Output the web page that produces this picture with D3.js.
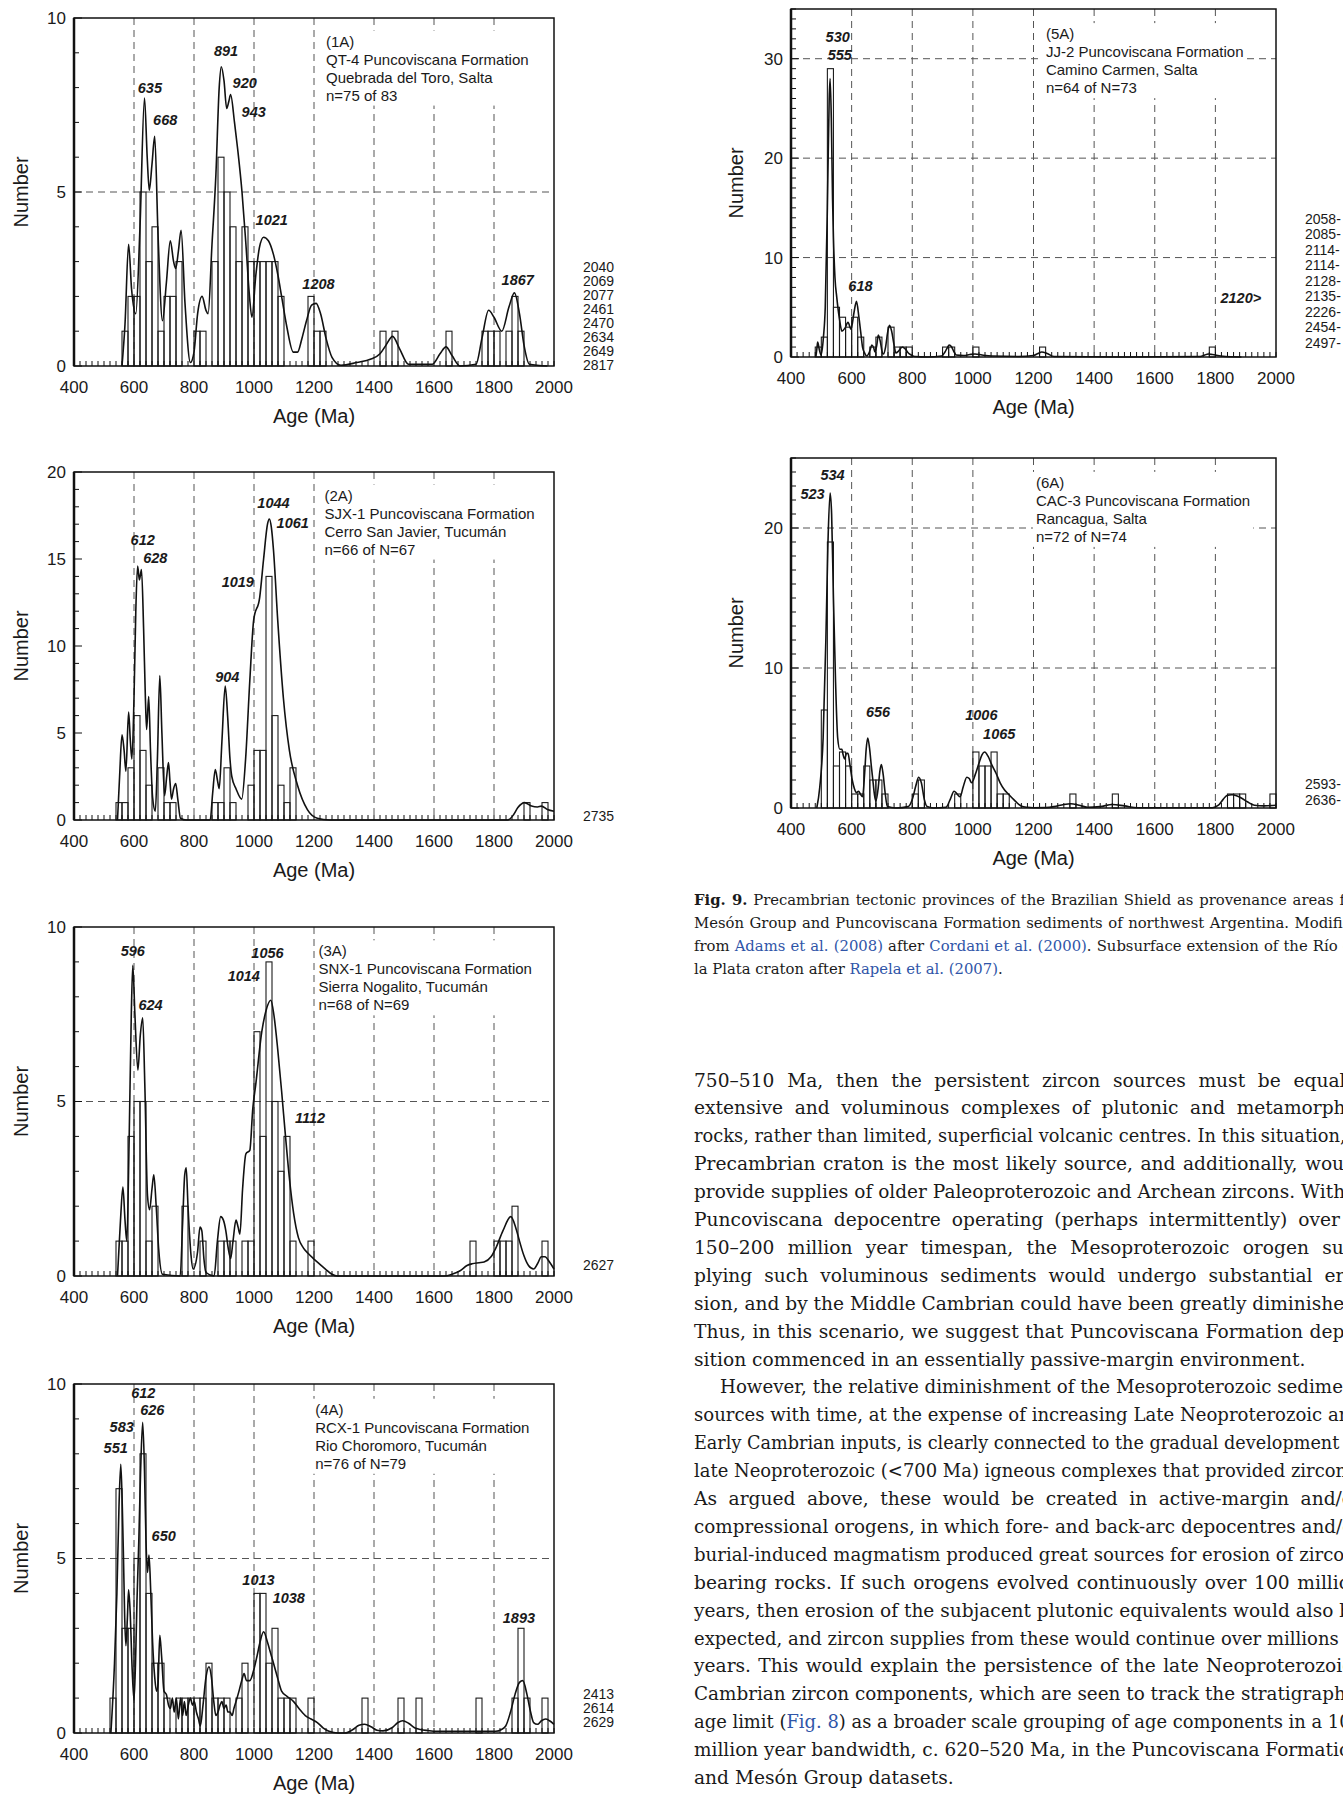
<!DOCTYPE html>
<html>
<head>
<meta charset="utf-8">
<script src="https://cdnjs.cloudflare.com/ajax/libs/d3/7.8.5/d3.min.js"></script>
<style>
  body { margin: 0; background: #fff; }
  svg { display: block; }
</style>
</head>
<body>
<svg id="fig" width="1343" height="1794"></svg>
<script>
'use strict';

// ---- data: histogram bins [bin start (Ma), count], 20 Ma wide ----
var bins1A = [[560,1],[580,2],[600,2],[620,5],[640,3],[660,4],[680,1],[700,2],[720,2],[740,3],[800,1],[820,1],
  [860,3],[880,6],[900,5],[920,4],[940,3],[960,4],[980,3],[1000,3],[1020,3],[1040,3],[1060,3],[1080,2],
  [1180,2],[1200,1],[1220,1],[1420,1],[1460,1],[1640,1],[1760,1],[1780,1],[1800,1],[1840,1],[1860,2],[1880,1]];
var bins2A = [[540,1],[560,1],[580,3],[600,6],[620,4],[640,2],[680,3],[700,1],[720,1],[860,1],[880,1],[900,3],
  [920,1],[980,2],[1000,4],[1020,4],[1040,14],[1060,6],[1080,2],[1100,1],[1120,3],[1900,1],[1960,1]];
var bins3A = [[540,1],[560,1],[580,4],[600,5],[620,5],[640,1],[660,2],[760,2],[820,1],[880,1],[900,1],[920,1],
  [960,1],[980,1],[1000,7],[1020,4],[1040,9],[1060,5],[1080,3],[1100,4],[1120,1],[1180,1],[1720,1],[1800,1],
  [1820,1],[1840,1],[1860,2],[1960,1]];
var bins4A = [[520,1],[540,7],[560,3],[580,3],[600,5],[620,8],[640,4],[660,2],[680,2],[700,1],[740,1],[760,1],
  [780,1],[800,1],[820,1],[840,2],[860,1],[880,1],[900,1],[940,1],[960,2],[1000,4],[1020,4],[1040,2],[1060,3],
  [1080,1],[1100,1],[1120,1],[1180,1],[1360,1],[1480,1],[1540,1],[1740,1],[1860,1],[1880,3],[1900,1],[1960,1]];
var bins5A = [[480,1],[500,2],[520,29],[540,5],[560,4],[580,3],[600,4],[620,2],[660,1],[680,2],[720,3],[740,1],
  [760,1],[780,1],[900,1],[920,1],[1000,1],[1220,1],[1780,1]];
var bins6A = [[500,7],[520,19],[540,3],[560,4],[580,3],[600,1],[620,1],[640,3],[660,2],[680,2],[700,1],[800,1],
  [820,2],[940,1],[1000,4],[1020,3],[1040,3],[1060,4],[1080,1],[1100,1],[1320,1],[1460,1],[1840,1],[1860,1],
  [1880,1],[1980,1]];

// ---- data: probability curves [age (Ma), number] ----
var curve1A = [[560,0],[570,1.2],[582,3.5],[592,2.2],[606,1.5],[620,4],[635,7.7],[644,6],[651,5.05],[660,5.8],
  [669,6.6],[680,3.8],[695,1.3],[708,2.4],[721,3.6],[732,3.0],[739,2.8],[748,3.3],[757,3.9],[770,1.8],[788,0.1],
  [800,0.4],[812,1.5],[827,2.0],[840,1.6],[847,1.5],[860,3.5],[873,5.5],[884,8],[891,8.6],[900,8.2],[909,7.4],
  [916,7.6],[922,7.8],[935,7.0],[946,6.2],[960,5.0],[973,3.5],[985,2.0],[993,1.4],[1006,2.6],[1018,3.4],
  [1032,3.7],[1048,3.6],[1065,3.2],[1080,2.6],[1092,2.0],[1110,1.1],[1131,0.4],[1145,0.4],[1160,0.8],[1175,1.3],
  [1192,1.75],[1207,1.8],[1222,1.5],[1240,0.8],[1260,0.25],[1290,0.02],[1343,0.1],[1390,0.2],[1420,0.35],
  [1440,0.6],[1462,0.85],[1485,0.5],[1515,0.05],[1594,0.05],[1620,0.35],[1640,0.55],[1660,0.3],[1687,0],
  [1740,0.05],[1760,0.8],[1782,1.6],[1800,1.4],[1826,1.0],[1850,1.7],[1868,2.1],[1885,1.5],[1900,0.6],
  [1918,0.05],[1978,0]];
var curve2A = [[545,0],[552,2.5],[560,4.9],[567,4.0],[573,2.8],[582,6.2],[588,4.5],[593,3.5],[600,7],[606,12],
  [612,14.6],[618,13.8],[625,14.4],[632,11],[638,7],[642,5.2],[649,7.1],[655,4],[662,1.3],[671,0.5],[678,3.5],
  [686,8.3],[693,5],[702,1.4],[709,2.5],[715,3.3],[720,2.2],[725,1.2],[732,1.8],[739,2.1],[746,1.2],[755,0.1],
  [774,0],[854,0],[862,1.5],[871,2.9],[878,2.3],[884,1.8],[893,4.5],[904,7.7],[912,6.0],[920,3.5],[926,2.5],
  [940,1.8],[959,1.2],[972,3.5],[986,8],[999,11.5],[1019,12.8],[1032,15.0],[1045,17.0],[1051,17.3],[1058,16.8],
  [1065,15.5],[1079,11.5],[1098,7.0],[1118,4.0],[1145,2.0],[1178,0.6],[1211,0.1],[1251,0],[1846,0],[1865,0.3],
  [1879,0.7],[1902,1.0],[1925,0.8],[1945,0.75],[1958,0.8],[1978,0.6],[2000,0.5]];
var curve3A = [[545,0],[555,1.6],[563,2.55],[570,1.6],[576,1.0],[584,4],[591,7.5],[596,8.9],[603,7.5],[613,5.9],
  [621,6.9],[629,7.4],[636,5.5],[645,2.3],[652,1.9],[660,2.5],[666,2.9],[674,2.0],[682,0.8],[695,0.05],[754,0],
  [762,1.5],[769,2.9],[774,3.1],[780,2.0],[790,0.6],[797,0.2],[812,0.7],[820,1.4],[826,1.3],[833,0.5],[840,0.1],
  [867,0],[878,1.0],[889,1.7],[898,1.6],[906,1.3],[914,0.8],[922,0.5],[930,1.0],[940,1.6],[947,1.4],[953,1.2],
  [962,2.5],[973,3.5],[986,3.6],[996,4.8],[1006,5.5],[1026,7.0],[1040,7.6],[1056,7.9],[1066,7.5],[1079,6.5],
  [1092,5.3],[1105,4.0],[1118,2.8],[1132,1.8],[1148,1.1],[1165,0.8],[1180,0.65],[1198,0.5],[1218,0.35],
  [1238,0.2],[1260,0.05],[1278,0],[1634,0],[1660,0.05],[1687,0.15],[1710,0.3],[1727,0.35],[1750,0.38],
  [1767,0.4],[1790,0.55],[1806,0.8],[1830,1.3],[1856,1.7],[1872,1.4],[1885,1.0],[1899,0.6],[1915,0.3],
  [1932,0.2],[1945,0.35],[1958,0.55],[1970,0.55],[1985,0.4],[2000,0.2]];
var curve4A = [[523,0],[535,2.0],[543,4],[550,6.5],[556,7.7],[561,6.5],[565,5],[569,3.3],[573,2.5],[578,3.3],
  [582,4.1],[587,3.5],[594,1.8],[600,0.95],[605,2.0],[610,3.8],[616,5.5],[622,7.5],[629,8.9],[635,7.5],[640,5.5],
  [645,4.6],[650,5.1],[656,4.0],[662,2.6],[669,1.6],[675,1.2],[680,1.4],[686,2.8],[692,2.2],[700,1.2],[708,1.1],
  [715,0.8],[721,0.7],[728,1.0],[734,0.6],[741,1.0],[748,0.4],[755,1.0],[762,0.5],[768,0.9],[774,0.5],[781,0.8],
  [788,1.0],[795,0.8],[801,0.9],[808,0.6],[815,0.4],[821,0.2],[830,0.8],[840,1.6],[850,1.9],[858,1.6],[866,0.9],
  [873,0.5],[880,0.6],[887,0.8],[893,0.9],[900,0.7],[907,0.8],[913,0.6],[920,0.6],[927,0.5],[933,0.7],[940,0.9],
  [950,1.2],[959,1.5],[967,1.7],[975,1.5],[986,1.5],[999,1.8],[1010,2.2],[1020,2.6],[1032,2.9],[1045,2.6],
  [1055,2.3],[1065,2.0],[1078,1.6],[1092,1.2],[1110,1.05],[1132,0.9],[1150,0.7],[1171,0.5],[1190,0.4],
  [1211,0.3],[1230,0.15],[1250,0.05],[1280,0],[1303,0],[1330,0.1],[1350,0.22],[1369,0.25],[1390,0.18],
  [1410,0.08],[1430,0.06],[1460,0.15],[1480,0.3],[1495,0.35],[1515,0.28],[1535,0.15],[1554,0.1],[1580,0.07],
  [1607,0.05],[1700,0.05],[1806,0.05],[1825,0.1],[1839,0.2],[1855,0.6],[1870,1.1],[1885,1.45],[1896,1.5],
  [1910,1.1],[1922,0.6],[1932,0.3],[1945,0.25],[1958,0.35],[1972,0.4],[1985,0.35],[2000,0.25]];
var curve5A = [[482,0],[486,1.0],[488,1.5],[493,0.8],[499,0.2],[507,2],[513,5],[520,15],[526,26],[529,28],
  [533,24],[537,16],[540,12],[545,8],[551,6],[560,3.8],[568,2.6],[578,2.9],[588,3.5],[598,2.8],[608,4.5],
  [616,5.6],[624,4.0],[630,2.5],[636,1.0],[643,0.4],[650,0.1],[660,0.6],[667,1.2],[673,0.9],[677,0.5],[683,1.2],
  [688,2.2],[695,1.5],[700,0.6],[705,0.3],[712,1.0],[719,2.5],[725,3.2],[732,2.6],[740,1.2],[746,0.4],[755,0.6],
  [767,1.0],[777,0.8],[787,0.4],[797,0.2],[808,0.05],[850,0],[897,0.1],[908,0.5],[915,0.9],[922,1.2],[930,1.0],
  [938,0.5],[945,0.2],[970,0.15],[990,0.25],[1007,0.3],[1030,0.2],[1062,0.1],[1150,0.05],[1200,0.15],
  [1215,0.35],[1227,0.5],[1245,0.35],[1268,0.05],[1500,0],[1750,0.05],[1765,0.2],[1776,0.3],[1790,0.25],
  [1818,0.1],[1850,0.02],[1886,0]];
var curve6A = [[485,0],[495,1.5],[506,5],[515,12],[522,19],[529,22.5],[534,21],[540,15],[547,9],[554,5],
  [561,4.2],[568,4.2],[572,3.8],[577,3.5],[583,3.9],[588,3.9],[595,3.0],[602,2.0],[609,1.4],[616,1.1],[623,1.2],
  [629,1.0],[636,0.8],[643,2.5],[648,4.2],[653,5.0],[659,4.3],[665,3.0],[670,2.0],[675,1.0],[680,0.5],[688,1.5],
  [693,2.6],[698,3.1],[704,2.4],[711,1.0],[718,0.1],[746,0],[787,0.1],[800,0.6],[812,1.6],[821,2.2],[830,1.8],
  [840,0.6],[849,0.1],[870,0],[911,0.05],[925,0.6],[938,1.2],[948,1.0],[958,0.8],[968,1.5],[980,2.2],[988,2.1],
  [996,1.8],[1008,2.4],[1020,3.2],[1030,3.8],[1039,4.0],[1050,3.7],[1062,3.1],[1076,2.5],[1090,1.8],[1104,1.3],
  [1117,1.0],[1135,0.6],[1159,0.15],[1180,0.05],[1200,0.02],[1240,0.03],[1268,0.1],[1300,0.25],[1323,0.3],
  [1350,0.2],[1378,0.05],[1420,0.1],[1460,0.25],[1500,0.15],[1543,0.02],[1790,0.02],[1810,0.2],[1825,0.6],
  [1838,0.9],[1855,0.95],[1872,0.85],[1887,0.7],[1905,0.45],[1929,0.2],[1960,0.15],[2000,0.2]];

// ---- data: peak age labels [text, age, number] ----
var peaks1A = [['635',653,8.0],['668',704,7.07],['891',907,9.04],['920',969,8.13],['943',999,7.31],
  ['1021',1059,4.19],['1208',1215,2.37],['1867',1879,2.47]];
var peaks2A = [['612',629,16.1],['628',671,15.06],['1019',946,13.7],['904',911,8.2],['1044',1065,18.2],
  ['1061',1129,17.1]];
var peaks3A = [['596',596,9.31],['624',655,7.76],['1014',966,8.59],['1056',1045,9.26],['1112',1187,4.53]];
var peaks4A = [['612',631,9.74],['626',661,9.25],['583',559,8.76],['551',539,8.17],['650',699,5.64],
  ['1013',1015,4.40],['1038',1116,3.88],['1893',1883,3.31]];
var peaks5A = [['530',554,32.2],['555',561,30.4],['618',629,7.16],['2120>',1884,5.93]];
var peaks6A = [['534',537,23.8],['523',471,22.4],['656',687,6.83],['1006',1028,6.62],['1065',1087,5.26]];

// ---- data: sample notes ----
var info1A = ['(1A)', 'QT-4 Puncoviscana Formation', 'Quebrada del Toro, Salta', 'n=75 of 83'];
var info2A = ['(2A)', 'SJX-1 Puncoviscana Formation', 'Cerro San Javier, Tucumán', 'n=66 of N=67'];
var info3A = ['(3A)', 'SNX-1 Puncoviscana Formation', 'Sierra Nogalito, Tucumán', 'n=68 of N=69'];
var info4A = ['(4A)', 'RCX-1 Puncoviscana Formation', 'Rio Choromoro, Tucumán', 'n=76 of N=79'];
var info5A = ['(5A)', 'JJ-2 Puncoviscana Formation', 'Camino Carmen, Salta', 'n=64 of N=73'];
var info6A = ['(6A)', 'CAC-3 Puncoviscana Formation', 'Rancagua, Salta', 'n=72 of N=74'];

// ages beyond the 2000 Ma axis limit
var side1A = ['2040','2069','2077','2461','2470','2634','2649','2817'];
var side2A = ['2735'];
var side3A = ['2627'];
var side4A = ['2413','2614','2629'];
var side5A = ['2058','2085','2114','2114','2128','2135','2226','2454','2497'];
var side6A = ['2593','2636'];

var xTicks = [400, 600, 800, 1000, 1200, 1400, 1600, 1800, 2000];
var yTicks10 = [0, 5, 10];
var yTicks20 = [0, 5, 10, 15, 20];
var yTicks35 = [0, 10, 20, 30];
var yTicks25 = [0, 10, 20];

var captionLines = [
  [['b','Fig. 9.'],['t',' Precambrian tectonic provinces of the Brazilian Shield as provenance areas for']],
  [['t','Mesón Group and Puncoviscana Formation sediments of northwest Argentina. Modified']],
  [['t','from '],['a','Adams et al. (2008)'],['t',' after '],['a','Cordani et al. (2000)'],['t','. Subsurface extension of the Río de']],
  [['t','la Plata craton after '],['a','Rapela et al. (2007)'],['t','.']]
];
var bodyLines = [
  '750–510 Ma, then the persistent zircon sources must be equally',
  'extensive and voluminous complexes of plutonic and metamorphic',
  'rocks, rather than limited, superficial volcanic centres. In this situation, a',
  'Precambrian craton is the most likely source, and additionally, would',
  'provide supplies of older Paleoproterozoic and Archean zircons. With a',
  'Puncoviscana depocentre operating (perhaps intermittently) over a',
  '150–200 million year timespan, the Mesoproterozoic orogen sup-',
  'plying such voluminous sediments would undergo substantial ero-',
  'sion, and by the Middle Cambrian could have been greatly diminished.',
  'Thus, in this scenario, we suggest that Puncoviscana Formation depo-',
  'sition commenced in an essentially passive-margin environment.',
  'However, the relative diminishment of the Mesoproterozoic sediment',
  'sources with time, at the expense of increasing Late Neoproterozoic and',
  'Early Cambrian inputs, is clearly connected to the gradual development of',
  'late Neoproterozoic (<700 Ma) igneous complexes that provided zircons.',
  'As argued above, these would be created in active-margin and/or',
  'compressional orogens, in which fore- and back-arc depocentres and/or',
  'burial-induced magmatism produced great sources for erosion of zircon-',
  'bearing rocks. If such orogens evolved continuously over 100 million',
  'years, then erosion of the subjacent plutonic equivalents would also be',
  'expected, and zircon supplies from these would continue over millions of',
  'years. This would explain the persistence of the late Neoproterozoic–',
  'Cambrian zircon components, which are seen to track the stratigraphic',
  'age limit ({Fig. 8}) as a broader scale grouping of age components in a 100',
  'million year bandwidth, c. 620–520 Ma, in the Puncoviscana Formation',
  'and Mesón Group datasets.'
];

var SANS = '"Liberation Sans", Arial, Helvetica, sans-serif';
var SERIF = '"DejaVu Serif", serif';
var INK = '#1a1a1a';
var LINK = '#2f55a8';

// layout of the six panels
var panels = [
  {bins: bins1A, curve: curve1A, peaks: peaks1A, info: info1A, infoAt: [1240, 9.33], side: side1A,
    yMax: 10, yTicks: yTicks10, hGrid: [5], left: 74, right: 554, top: 18, bottom: 366, sideX: 583, sideOff: -1, titleX: 21},
  {bins: bins2A, curve: curve2A, peaks: peaks2A, info: info2A, infoAt: [1235, 18.66], side: side2A,
    yMax: 20, yTicks: yTicks20, hGrid: [], left: 74, right: 554, top: 472, bottom: 820, sideX: 583, sideOff: -4, titleX: 21},
  {bins: bins3A, curve: curve3A, peaks: peaks3A, info: info3A, infoAt: [1215, 9.31], side: side3A,
    yMax: 10, yTicks: yTicks10, hGrid: [5], left: 74, right: 554, top: 927, bottom: 1276, sideX: 583, sideOff: -11, titleX: 21},
  {bins: bins4A, curve: curve4A, peaks: peaks4A, info: info4A, infoAt: [1204, 9.27], side: side4A,
    yMax: 10, yTicks: yTicks10, hGrid: [5], left: 74, right: 554, top: 1384, bottom: 1733, sideX: 583, sideOff: -11, titleX: 21},
  {bins: bins5A, curve: curve5A, peaks: peaks5A, info: info5A, infoAt: [1241, 32.5], side: side5A,
    yMax: 35, yTicks: yTicks35, hGrid: [10, 20, 30], left: 791, right: 1276, top: 9, bottom: 357, sideX: 1305, sideOff: -14, titleX: 736},
  {bins: bins6A, curve: curve6A, peaks: peaks6A, info: info6A, infoAt: [1208, 23.24], side: side6A,
    yMax: 25, yTicks: yTicks25, hGrid: [10, 20], left: 791, right: 1276, top: 458, bottom: 808, sideX: 1305, sideOff: -8, titleX: 736}
];

function drawPanel(svg, p) {
  var x = d3.scaleLinear().domain([400, 2000]).range([p.left, p.right]);
  var y = d3.scaleLinear().domain([0, p.yMax]).range([p.bottom, p.top]);
  var g = svg.append('g');

  // dashed grid
  g.selectAll('line.vgrid')
    .data(d3.range(600, 2000, 200))
    .enter()
    .append('line')
    .attr('x1', x).attr('x2', x)
    .attr('y1', p.top).attr('y2', p.bottom)
    .attr('stroke', '#555').attr('stroke-width', 1).attr('stroke-dasharray', '7,5');

  g.selectAll('line.hgrid')
    .data(p.hGrid)
    .enter()
    .append('line')
    .attr('x1', p.left).attr('x2', p.right)
    .attr('y1', y).attr('y2', y)
    .attr('stroke', '#555').attr('stroke-width', 1).attr('stroke-dasharray', '7,5');

  // sample notes, on a white patch that hides the grid behind it
  var note = g.append('g');
  var noteRect = note.append('rect').attr('fill', '#fff');
  note.selectAll('text')
    .data(p.info)
    .enter()
    .append('text')
    .attr('x', x(p.infoAt[0]))
    .attr('y', function (d, i) {
      return y(p.infoAt[1]) + i * 18;
    })
    .attr('dy', '0.35em')
    .attr('font-family', SANS).attr('font-size', 15).attr('fill', INK)
    .text(function (d) {
      return d;
    });
  var bb = note.node().getBBox();
  noteRect.attr('x', bb.x - 3).attr('y', bb.y - 2).attr('width', bb.width + 6).attr('height', bb.height + 4);

  // histogram
  g.selectAll('rect.bar')
    .data(p.bins)
    .enter()
    .append('rect')
    .attr('x', function (d) { return x(d[0]); })
    .attr('width', function (d) { return x(d[0] + 20) - x(d[0]); })
    .attr('y', function (d) { return y(d[1]); })
    .attr('height', function (d) { return y(0) - y(d[1]); })
    .attr('fill', 'none').attr('stroke', '#1c1c1c').attr('stroke-width', 1.1);

  // probability curve
  var line = d3.line()
    .x(function (d) { return x(d[0]); })
    .y(function (d) { return y(d[1]); })
    .curve(d3.curveMonotoneX);
  g.append('path')
    .datum(p.curve)
    .attr('d', line)
    .attr('fill', 'none').attr('stroke', '#111').attr('stroke-width', 1.6);

  // frame
  g.append('rect')
    .attr('x', p.left).attr('y', p.top)
    .attr('width', p.right - p.left).attr('height', p.bottom - p.top)
    .attr('fill', 'none').attr('stroke', '#111').attr('stroke-width', 1.5);
  g.append('line')
    .attr('x1', p.left).attr('x2', p.left).attr('y1', p.top).attr('y2', p.bottom)
    .attr('stroke', '#111').attr('stroke-width', 2.5);

  // inner ticks
  g.selectAll('line.ytick')
    .data(d3.range(0, p.yMax + 1, 1))
    .enter()
    .append('line')
    .attr('x1', p.left).attr('x2', function (d) {
      return p.yTicks.indexOf(d) >= 0 ? p.left + 8 : p.left + 5;
    })
    .attr('y1', y).attr('y2', y)
    .attr('stroke', '#111').attr('stroke-width', 1);
  g.selectAll('line.xtick')
    .data(d3.range(400, 2001, 20))
    .enter()
    .append('line')
    .attr('x1', x).attr('x2', x)
    .attr('y1', p.bottom).attr('y2', p.bottom - 5)
    .attr('stroke', '#111').attr('stroke-width', 1);

  // tick labels
  g.selectAll('text.xl')
    .data(xTicks)
    .enter()
    .append('text')
    .attr('x', x).attr('y', p.bottom + 21)
    .attr('dy', '0.35em').attr('text-anchor', 'middle')
    .attr('font-family', SANS).attr('font-size', 17).attr('fill', INK)
    .text(function (d) { return d; });
  g.selectAll('text.yl')
    .data(p.yTicks)
    .enter()
    .append('text')
    .attr('x', p.left - 8).attr('y', y)
    .attr('dy', '0.35em').attr('text-anchor', 'end')
    .attr('font-family', SANS).attr('font-size', 17).attr('fill', INK)
    .text(function (d) { return d; });

  // axis titles
  g.append('text')
    .attr('x', (p.left + p.right) / 2).attr('y', p.bottom + 50)
    .attr('dy', '0.35em').attr('text-anchor', 'middle')
    .attr('font-family', SANS).attr('font-size', 20).attr('fill', INK)
    .text('Age (Ma)');
  g.append('text')
    .attr('transform', 'translate(' + p.titleX + ',' + ((p.top + p.bottom) / 2) + ') rotate(-90)')
    .attr('dy', '0.35em').attr('text-anchor', 'middle')
    .attr('font-family', SANS).attr('font-size', 20).attr('fill', INK)
    .text('Number');

  // peak labels
  g.selectAll('text.peak')
    .data(p.peaks)
    .enter()
    .append('text')
    .attr('x', function (d) { return x(d[1]); })
    .attr('y', function (d) { return y(d[2]); })
    .attr('dy', '0.35em').attr('text-anchor', 'middle')
    .attr('font-family', SANS).attr('font-size', 14.5)
    .attr('font-weight', 'bold').attr('font-style', 'italic').attr('fill', INK)
    .text(function (d) { return d[0]; });

  // older ages listed beside the plot
  var gap = p.left > 400 ? 15.5 : 14;
  var n = p.side.length;
  g.selectAll('text.side')
    .data(p.side)
    .enter()
    .append('text')
    .attr('x', p.sideX)
    .attr('y', function (d, i) { return p.bottom + p.sideOff - (n - 1 - i) * gap; })
    .attr('dy', '0.35em')
    .attr('font-family', SANS).attr('font-size', 14).attr('fill', INK)
    .text(function (d) { return p.left > 400 ? d + '-' : d; });
}

// set one text line flush to both margins: stretch the word gaps,
// or squeeze the line a little if it is already too long
function justify(textNode, width, spread) {
  if (!spread) {
    return;
  }
  var len = textNode.getComputedTextLength();
  var spaces = (textNode.textContent.match(/ /g) || []).length;
  if (len > width) {
    d3.select(textNode).attr('textLength', width).attr('lengthAdjust', 'spacingAndGlyphs');
  } else if (spaces) {
    d3.select(textNode).attr('word-spacing', (width - len) / spaces);
  }
}

function drawCaption(svg) {
  var left = 694, right = 1361;
  var probe = svg.append('text').attr('font-family', SERIF).attr('font-size', 13)
    .text('la Plata craton after Rapela et al. (2007).');
  var size = 13 * 309 / probe.node().getComputedTextLength();
  probe.remove();

  captionLines.forEach(function (segs, i) {
    var t = svg.append('text')
      .attr('x', left).attr('y', 900 + i * 23)
      .attr('dy', '0.35em')
      .attr('font-family', SERIF).attr('font-size', size).attr('fill', INK);
    segs.forEach(function (s) {
      t.append('tspan')
        .attr('font-weight', s[0] === 'b' ? 'bold' : null)
        .attr('fill', s[0] === 'a' ? LINK : null)
        .text(s[1]);
    });
    justify(t.node(), right - left, i < captionLines.length - 1);
  });
}

function drawBody(svg) {
  var left = 694, right = 1362, indent = 26;
  var probe = svg.append('text').attr('font-family', SERIF).attr('font-size', 18)
    .text(bodyLines[10]);
  var size = 18 * 612 / probe.node().getComputedTextLength();
  probe.remove();

  bodyLines.forEach(function (line, i) {
    var x0 = i === 11 ? left + indent : left;
    var t = svg.append('text')
      .attr('x', x0).attr('y', 1080 + i * 27.9)
      .attr('dy', '0.35em')
      .attr('font-family', SERIF).attr('font-size', size).attr('fill', INK);
    line.split(/(\{[^}]*\})/).forEach(function (part) {
      if (!part) {
        return;
      }
      var isLink = part.charAt(0) === '{';
      t.append('tspan')
        .attr('fill', isLink ? LINK : null)
        .text(isLink ? part.slice(1, -1) : part);
    });
    justify(t.node(), right - x0, i !== 10 && i !== bodyLines.length - 1);
  });
}

var svg = d3.select('#fig');
svg.append('rect').attr('width', 1343).attr('height', 1794).attr('fill', '#fff');
panels.forEach(function (p) {
  drawPanel(svg, p);
});
drawCaption(svg);
drawBody(svg);
</script>
</body>
</html>
